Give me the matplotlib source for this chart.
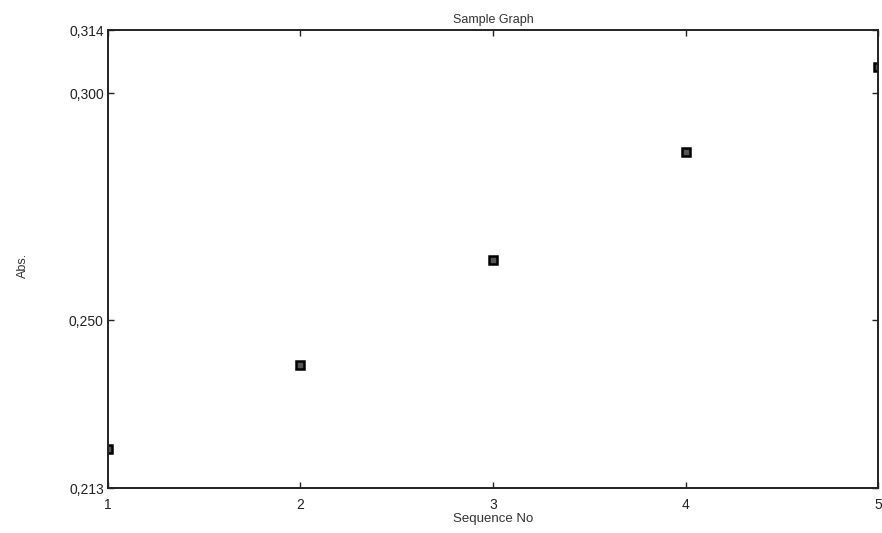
import matplotlib
matplotlib.use("Agg")
import matplotlib.pyplot as plt
from matplotlib.ticker import FuncFormatter

plt.rcParams['font.family'] = ['Liberation Sans', 'DejaVu Sans']

# absorbance readings per sequence number
sequence_no = [1, 2, 3, 4, 5]
absorbance = [0.2216, 0.2401, 0.2632, 0.2871, 0.3058]

y_ticks = [0.213, 0.250, 0.300, 0.314]
x_ticks = [1, 2, 3, 4, 5]

fig = plt.figure(figsize=(8.82, 5.33), dpi=100)
ax = fig.add_axes([0.1224, 0.0844, 0.8731, 0.8593])

ax.plot(sequence_no, absorbance, linestyle='none', marker='s', markersize=6,
        markerfacecolor='#555555', markeredgecolor='black', markeredgewidth=1.8)

ax.set_xlim(1, 5)
ax.set_ylim(0.213, 0.314)
ax.set_xticks(x_ticks)
ax.set_yticks(y_ticks)
ax.yaxis.set_major_formatter(FuncFormatter(lambda v, p: f"{v:.3f}".replace('.', ',')))

ax.tick_params(direction='in', length=4, width=1, labelsize=10, colors='#222222',
               top=True, right=True, pad=3)
ax.tick_params(axis='x', pad=7)
for s in ax.spines.values():
    s.set_linewidth(1.4)
    s.set_color('#222222')

ax.set_title("Sample Graph", fontsize=9, pad=5, color='#333333')
ax.set_xlabel("Sequence No", fontsize=9.5, labelpad=1, color='#333333')
ax.set_ylabel("Abs.", fontsize=9, color='#333333')
ax.yaxis.set_label_coords(-0.103, 0.487)

fig.savefig("out.png", dpi=100)
